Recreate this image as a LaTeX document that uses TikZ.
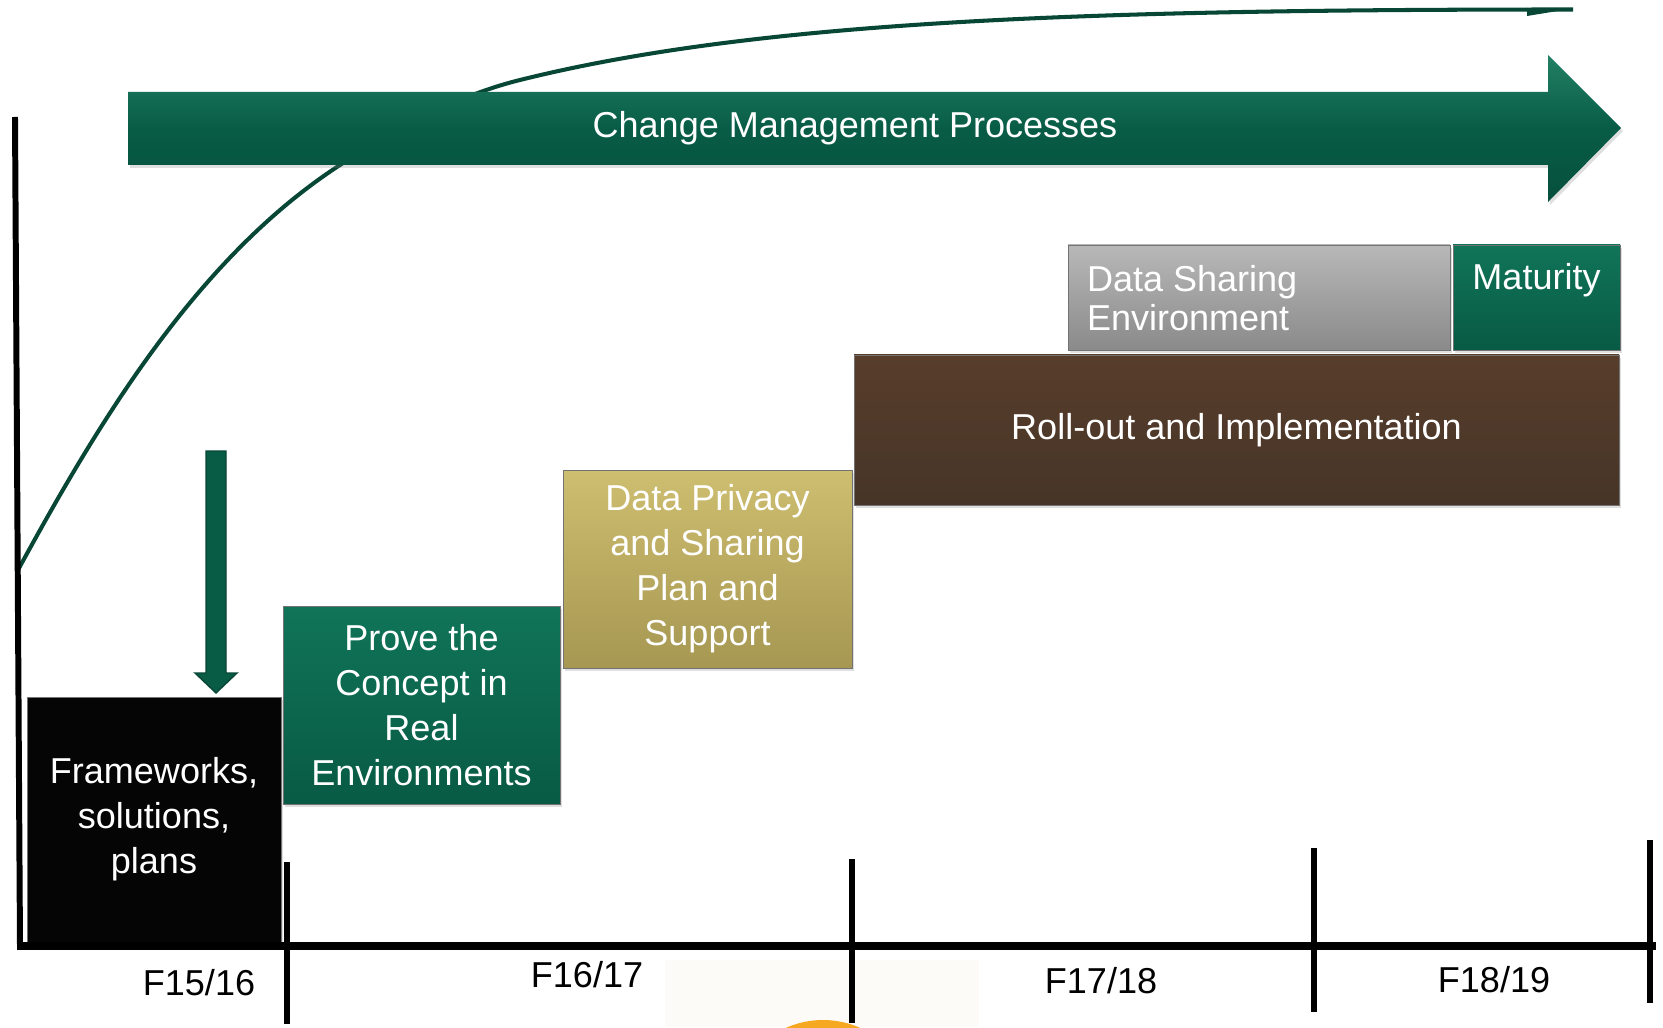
\documentclass[tikz,border=0pt]{standalone}
\usepackage{fontspec}
\setmainfont{Liberation Sans}
\usetikzlibrary{shadows}

\definecolor{arrowgreen}{RGB}{8,92,70}
\definecolor{arrowlight}{RGB}{34,128,100}
\definecolor{arrowdark}{RGB}{6,80,61}
\definecolor{curvegreen}{RGB}{8,70,53}
\definecolor{stagegreen}{RGB}{8,90,68}
\definecolor{stagelight}{RGB}{16,116,88}
\definecolor{stageblack}{RGB}{5,5,5}
\definecolor{goldtop}{RGB}{206,190,112}
\definecolor{goldbottom}{RGB}{166,151,82}
\definecolor{browntop}{RGB}{88,61,43}
\definecolor{brownbottom}{RGB}{70,53,40}
\definecolor{graytop}{RGB}{184,184,184}
\definecolor{graybottom}{RGB}{138,138,138}
\definecolor{paleback}{RGB}{252,251,248}
\definecolor{yearorange}{RGB}{246,168,33}

\tikzset{
  stage/.style={draw=black!55, line width=0.4pt, inner sep=0pt, text=white, align=center,
    font=\fontsize{20.5pt}{25.6pt}\selectfont,
    drop shadow={shadow xshift=0.04cm, shadow yshift=-0.06cm, opacity=0.25}},
  stagetext/.style={inner sep=0pt, text=white, align=left,
    font=\fontsize{20.5pt}{25.6pt}\selectfont},
  yearlabel/.style={anchor=base, inner sep=0pt, font=\fontsize{20.5pt}{25.6pt}\selectfont},
  axisline/.style={line width=4.5pt},
  tickline/.style={line width=3.8pt},
}

\begin{document}
\begin{tikzpicture}
    \useasboundingbox (0,0) rectangle (33.26,20.54);

    % bits of the slide below the axis
    \fill[paleback] (13.30,0) rectangle (19.58,1.34);
    \begin{scope}
      \clip (0,0) rectangle (33.26,20.54);
      \fill[yearorange] (16.46,-1.68) circle (1.82);
    \end{scope}

    % growth curve, behind the big arrow
    \draw[curvegreen, line width=2.3pt] (0.36,9.14) .. controls (1.99,12.13) and (3.95,15.39) .. (6.80,17.24)
      .. controls (7.89,17.95) and (9.14,18.63) .. (10.40,18.94)
      .. controls (15.25,20.15) and (22,20.35) .. (31.46,20.35);
    \fill[curvegreen] (30.54,20.38) -- (31.46,20.37) -- (30.54,20.22) -- cycle;

    % change management arrow
    \path[top color=arrowlight, bottom color=arrowdark, middle color=arrowgreen,
      drop shadow={shadow xshift=0.04cm, shadow yshift=-0.06cm, opacity=0.25}]
      (2.56,18.70) -- (30.96,18.70) -- (30.96,19.44) -- (32.42,17.98)
      -- (30.96,16.50) -- (30.96,17.24) -- (2.56,17.24) -- cycle;
    \node[stagetext] (change) at (17.10,17.98) {Change Management Processes};

    % stages
    \node[stage, fill=stageblack, minimum width=5.08cm, minimum height=4.90cm] (frame) at (3.08,4.15)
      {Frameworks,\\solutions,\\plans};
    \node[stage, top color=stagelight, bottom color=stagegreen, minimum width=5.54cm, minimum height=3.96cm] (prove) at (8.43,6.44)
      {Prove the\\Concept in\\Real\\Environments};
    \node[stage, top color=goldtop, bottom color=goldbottom, minimum width=5.78cm, minimum height=3.96cm] (privacy) at (14.15,9.16)
      {Data Privacy\\and Sharing\\Plan and\\Support};
    \node[stage, top color=browntop, bottom color=brownbottom, minimum width=15.30cm, minimum height=3.00cm] (rollout) at (24.73,11.94)
      {Roll-out and Implementation};
    \node[stage, top color=graytop, bottom color=graybottom, minimum width=7.64cm, minimum height=2.10cm] (sharing) at (25.18,14.59) {};
    \node[stage, top color=stagelight, bottom color=stagegreen, minimum width=3.34cm, minimum height=2.10cm] (maturity) at (30.73,14.59) {};
    \node[stagetext, anchor=north west, font=\fontsize{20.5pt}{22.2pt}\selectfont] (sharingtext)
      at ([shift={(0.38,-0.40)}]sharing.north west) {Data Sharing\\Environment};
    \node[stagetext, anchor=north] (maturitytext) at ([yshift=-0.36cm]maturity.north) {Maturity};

    % drop arrow onto the first stage
    \fill[arrowgreen, draw=curvegreen, line width=0.8pt] (4.12,11.52) -- (4.52,11.52) -- (4.52,7.08) -- (4.74,7.08)
      -- (4.32,6.68) -- (3.90,7.08) -- (4.12,7.08) -- cycle;

    % time axis
    \draw[line width=3.4pt] (0.30,18.20) -- (0.40,1.62);
    \draw[axisline] (0.34,1.62) -- (33.12,1.62);
    \draw[tickline] (5.74,3.30) -- (5.74,0.06);
    \draw[tickline] (17.04,3.36) -- (17.04,0.08);
    \draw[tickline] (26.28,3.58) -- (26.28,0.30);
    \draw[tickline] (33.00,3.74) -- (33.00,0.48);

    \node[yearlabel] (f1516) at (3.98,0.64) {F15/16};
    \node[yearlabel] (f1617) at (11.74,0.80) {F16/17};
    \node[yearlabel] (f1718) at (22.02,0.68) {F17/18};
    \node[yearlabel] (f1819) at (29.88,0.70) {F18/19};
  \end{tikzpicture}
\end{document}
